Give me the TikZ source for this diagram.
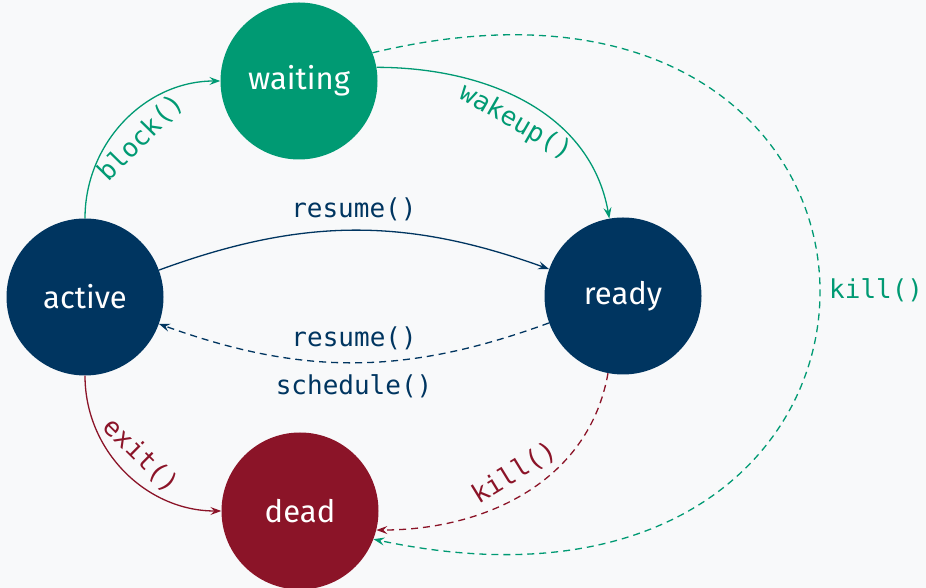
\documentclass[tikz,border=0pt]{standalone}
\usepackage{fontspec}
\setmainfont{Fira Sans}
\newfontfamily\monofont{DejaVu Sans Mono}
\usetikzlibrary{arrows.meta}
\definecolor{bgc}{HTML}{F8F9FA}
\definecolor{cblue}{HTML}{003560}
\definecolor{cgreen}{HTML}{009A73}
\definecolor{cred}{HTML}{8B1428}
\begin{document}
\begin{tikzpicture}[x=1pt,y=1pt,
 state/.style={circle, minimum size=157pt, inner sep=0pt, text=white, font=\fontsize{31}{36}\selectfont},
 lbl/.style={font=\monofont\fontsize{26}{30}\selectfont},
 conn/.style={line width=1.3pt, -{Stealth[length=11pt,width=8pt,inset=4pt]}},
 dsh/.style={dash pattern=on 7pt off 5pt}]
\fill[bgc] (0,0) rectangle (926,588);
\useasboundingbox (0,0) rectangle (926,588);
\node[state, fill=cgreen] (waiting) at (299,507) {waiting};
\node[state, fill=cblue] (active) at (85,291) {active};
\node[state, fill=cblue] (ready) at (623,292) {ready};
\node[state, fill=cred] (dead) at (300,77) {dead};
\draw[conn, cgreen] (active.north) to[out=90,in=180] node[lbl, text=cgreen, sloped, below=8pt] {block()} (waiting.west);
\draw[conn, cgreen] (waiting.10) to[out=0,in=100] node[lbl, text=cgreen, sloped, below=6pt] {wakeup()} (ready.100);
\draw[conn, cblue] (active.20) to[bend left=20] node[lbl, text=cblue, above=5pt] {resume()} (ready.160);
\draw[conn, cblue, dsh] (ready.200) to[bend left=20] node[lbl, text=cblue, align=center, font=\monofont\fontsize{26}{48}\selectfont] {resume()\\schedule()} (active.340);
\draw[conn, cred] (active.south) to[out=-90,in=180] node[lbl, text=cred, sloped, above=7pt] {exit()} (dead.west);
\draw[conn, cred, dsh] (ready.259) to[out=-100,in=0] node[lbl, text=cred, sloped, above=7pt] {kill()} (dead.-14);
\draw[conn, cgreen, dsh] (waiting.21) .. controls (968,678) and (968,-78) .. (dead.-21) node[pos=0.5, lbl, text=cgreen, right=6pt] {kill()};
\end{tikzpicture}
\end{document}
